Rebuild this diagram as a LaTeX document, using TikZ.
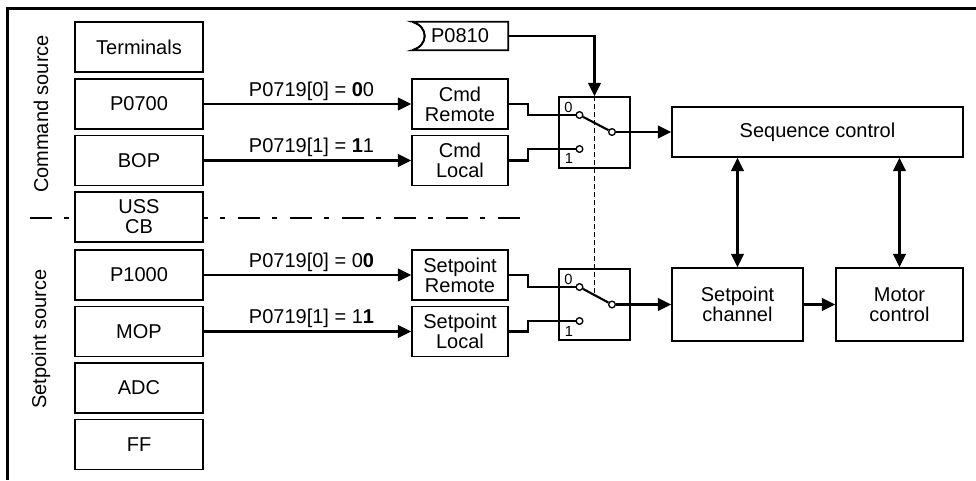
\documentclass[tikz,border=0pt]{standalone}
\usepackage{fontspec}
\setmainfont{Liberation Sans}
\usetikzlibrary{arrows.meta}
\begin{document}
\begin{tikzpicture}[x=0.75pt,y=-0.75pt,
  every node/.style={font=\fontsize{15}{15}\selectfont},
  box/.style={draw,line width=1.3pt,inner sep=0pt,align=center},
  lbox/.style={box,minimum width=96pt,minimum height=37.5pt},
  mbox/.style={box,minimum width=72pt,minimum height=37.5pt},
  swbox/.style={box,minimum width=53.25pt,minimum height=53.25pt},
  conn/.style={line width=1.6pt},
  arr/.style={conn,-{Triangle[length=10pt,width=9.5pt]}},
  darr/.style={conn,{Triangle[length=10pt,width=9.5pt]}-{Triangle[length=10pt,width=9.5pt]}},
  contact/.style={circle,draw,fill=white,inner sep=0pt,minimum size=5pt,line width=1pt},
  digit/.style={font=\fontsize{11}{11}\selectfont,inner sep=0pt},
  lbl/.style={above=2pt,inner sep=0pt,xshift=3pt}]

\useasboundingbox (0,0) rectangle (976,480);
\draw[line width=2.2pt] (7.5,480) -- (7.5,8.5) -- (976,8.5);

% section labels
\node[rotate=90] (cmdsrc) at (41,114) {Command source};
\node[rotate=90] (spsrc) at (41,339) {Setpoint source};

% dash-dot separator
\coordinate (sepA) at (30,218);
\coordinate (sepB) at (528,218);
\draw[line width=1.5pt,dash pattern=on 16.5pt off 9pt on 3.75pt off 9.75pt] (sepA) -- (sepB);

% left column
\node[lbox] (term) at (139,47) {Terminals};
\node[lbox] (p0700) at (139,104) {P0700};
\node[lbox] (bop) at (139,160.5) {BOP};
\node[lbox,fill=white] (uss) at (139,217) {USS\\CB};
\node[lbox] (p1000) at (139,275) {P1000};
\node[lbox] (mop) at (139,331.5) {MOP};
\node[lbox] (adc) at (139,388) {ADC};
\node[lbox] (ff) at (139,444.5) {FF};

% middle column
\node[mbox] (cmdr) at (460,104) {Cmd\\Remote};
\node[mbox] (cmdl) at (460,160.5) {Cmd\\Local};
\node[mbox] (spr) at (460,275) {Setpoint\\Remote};
\node[mbox] (spl) at (460,331.5) {Setpoint\\Local};

% P0810
\node[minimum width=72pt,minimum height=21pt,inner sep=0pt] (p0810) at (460,36) {P0810};
\draw[line width=1.3pt] (p0810.south west) .. controls (429,46) and (429,26) .. (p0810.north west)
  -- (p0810.north east) -- (p0810.south east) -- cycle;
\draw[line width=1.3pt,white] (p0810.south west) -- (p0810.north west);
\draw[line width=1.3pt] (p0810.south west) .. controls (429,46) and (429,26) .. (p0810.north west);

% switches
\node[swbox] (swc) at (594.5,132.5) {};
\node[swbox] (sws) at (594.5,304.5) {};
\node[digit] (swc0l) at (568.5,107.5) {0};
\node[digit] (swc1l) at (569,158) {1};
\node[digit] (sws0l) at (568.5,279) {0};
\node[digit] (sws1l) at (569,331) {1};

% right blocks
\node[box,minimum width=218.25pt,minimum height=37.5pt] (seq) at (817.5,132) {Sequence control};
\node[box,minimum width=98.25pt,minimum height=54.75pt] (chan) at (737.5,304.5) {Setpoint\\channel};
\node[box,minimum width=95.25pt,minimum height=54.75pt] (motor) at (899.5,304.5) {Motor\\control};

% dashed mechanical link
\coordinate (lev) at (594.5,294);
\draw[line width=0.9pt,dash pattern=on 3.5pt off 2.5pt] (swc.north) -- (lev);

% contacts
\node[contact] (swc0) at (579.5,115) {};
\node[contact] (swc1) at (579.5,149) {};
\node[contact] (swcp) at (612,132) {};
\node[contact] (sws0) at (579.5,287) {};
\node[contact] (sws1) at (579.5,321) {};
\node[contact] (swsp) at (612,304.5) {};
\draw[conn] (swc0) -- (swcp);
\draw[conn] (sws0) -- (swsp);

% source arrows
\draw[arr] (p0700) -- node[lbl] {P0719[0] = \textbf{0}0} (cmdr);
\draw[arr] (bop) -- node[lbl] {P0719[1] = \textbf{1}1} (cmdl);
\draw[arr] (p1000) -- node[lbl] {P0719[0] = 0\textbf{0}} (spr);
\draw[arr] (mop) -- node[lbl] {P0719[1] = 1\textbf{1}} (spl);

% into switches
\draw[conn] (cmdr.east) -- ++(19,0) |- (swc0);
\draw[conn] (cmdl.east) -- ++(19,0) |- (swc1);
\draw[conn] (spr.east) -- ++(19,0) |- (sws0);
\draw[conn] (spl.east) -- ++(19,0) |- (sws1);

% P0810 control
\draw[arr] (p0810.east) -| (swc.north);

% outputs
\draw[arr] (swcp) -- (seq);
\draw[arr] (swsp) -- (chan);
\draw[arr] (chan) -- (motor);
\draw[darr] (chan.north) -- (chan.north |- seq.south);
\draw[darr] (motor.north) -- (motor.north |- seq.south);
\end{tikzpicture}
\end{document}
